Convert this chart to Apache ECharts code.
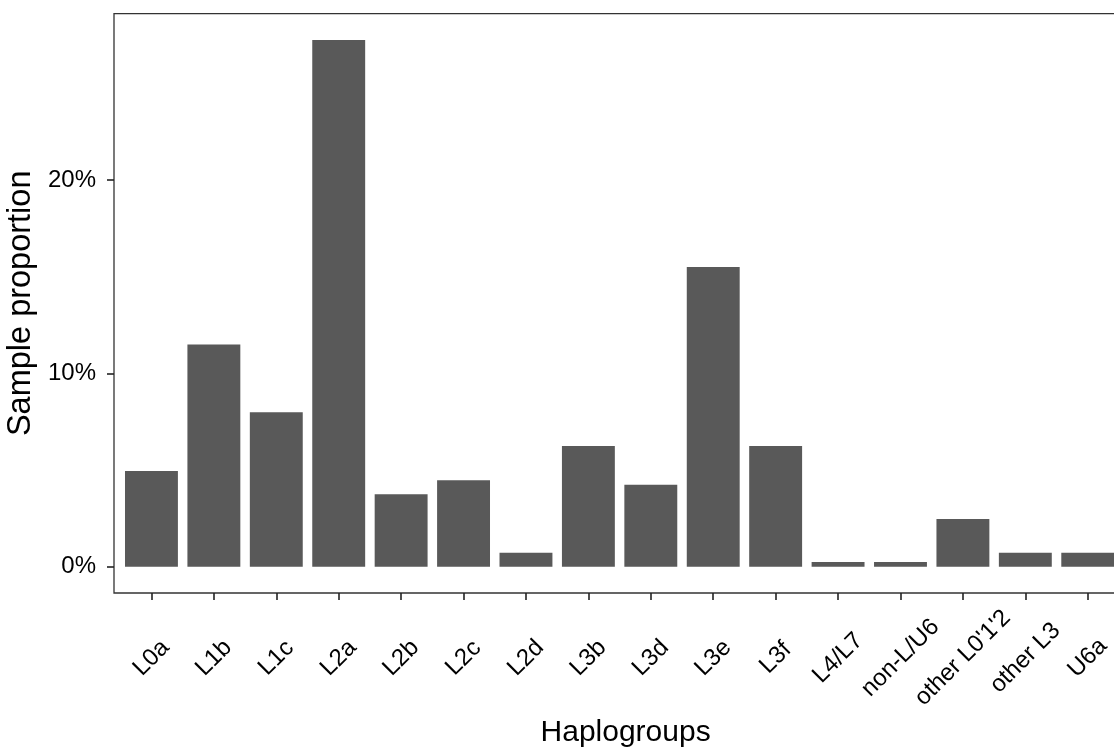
<!DOCTYPE html>
<html>
<head>
<meta charset="utf-8">
<title>Haplogroup proportions</title>
<script src="https://cdn.jsdelivr.net/npm/echarts@6/dist/echarts.min.js"></script>
<style>
  html, body { margin: 0; padding: 0; background: #ffffff; }
  #chart { width: 1114px; height: 750px; }
</style>
</head>
<body>
<div id="chart"></div>
<script>
// Haplogroup categories and the share of samples in each (percent)
const haplogroups = ['L0a', 'L1b', 'L1c', 'L2a', 'L2b', 'L2c', 'L2d', 'L3b', 'L3d', 'L3e',
                     'L3f', 'L4/L7', 'non-L/U6', "other L0'1'2", 'other L3', 'U6a'];
const proportions = [4.95, 11.50, 7.99, 27.25, 3.74, 4.47, 0.72, 6.24, 4.24, 15.50,
                     6.24, 0.24, 0.24, 2.47, 0.72, 0.72];
const yTicks = [0, 10, 20];

const FONT = '"Liberation Sans", Arial, sans-serif';

// Panel geometry: discrete axis padded by 0.6 of a band on each side,
// continuous axis padded by 5% of the data range.
const gridLeft = 114, gridTop = 13.6, gridBottom = 157, gridWidth = 1011.2;
const band = gridWidth / (haplogroups.length + 1.2);
const yMax = Math.max(...proportions);
const yPad = yMax * 0.05;

const chart = echarts.init(document.getElementById('chart'), null, { renderer: 'canvas' });

chart.setOption({
  animation: false,
  backgroundColor: '#ffffff',
  grid: {
    left: gridLeft, top: gridTop, bottom: gridBottom, width: gridWidth,
    outerBoundsMode: 'none',
    containLabel: false,
    show: true, borderColor: '#333333', borderWidth: 1.3, backgroundColor: 'transparent'
  },
  xAxis: {
    type: 'value',
    min: -0.6,
    max: haplogroups.length - 1 + 0.6,
    name: 'Haplogroups',
    nameLocation: 'middle',
    nameGap: 121,
    nameTextStyle: { fontFamily: FONT, fontSize: 30, color: '#000000', padding: [0, 0, 0, 12] },
    axisLine: { show: false, onZero: false },
    splitLine: { show: false },
    axisTick: {
      show: true, length: 7, inside: false,
      customValues: haplogroups.map((_, i) => i),
      lineStyle: { color: '#222222', width: 1.6 }
    },
    axisLabel: {
      customValues: haplogroups.map((_, i) => i),
      formatter: v => haplogroups[Math.round(v)],
      rotate: 45,
      align: 'center',
      verticalAlign: 'middle',
      margin: 65,
      fontFamily: FONT,
      fontSize: 24,
      color: '#000000'
    }
  },
  yAxis: {
    type: 'value',
    min: -yPad,
    max: yMax + yPad,
    name: 'Sample proportion',
    nameLocation: 'middle',
    nameGap: 63,
    nameTextStyle: { fontFamily: FONT, fontSize: 32.5, color: '#000000' },
    axisLine: { show: false, onZero: false },
    splitLine: { show: false },
    axisTick: {
      show: true, length: 7, inside: false,
      customValues: yTicks,
      lineStyle: { color: '#222222', width: 1.6 }
    },
    axisLabel: {
      customValues: yTicks,
      formatter: v => v + '%',
      margin: 18,
      fontFamily: FONT,
      fontSize: 24,
      color: '#000000'
    }
  },
  series: [{
    type: 'bar',
    data: proportions.map((v, i) => [i, v]),
    barWidth: band * 0.9,
    itemStyle: { color: '#595959' },
    emphasis: { disabled: true }
  }]
});
</script>
</body>
</html>
